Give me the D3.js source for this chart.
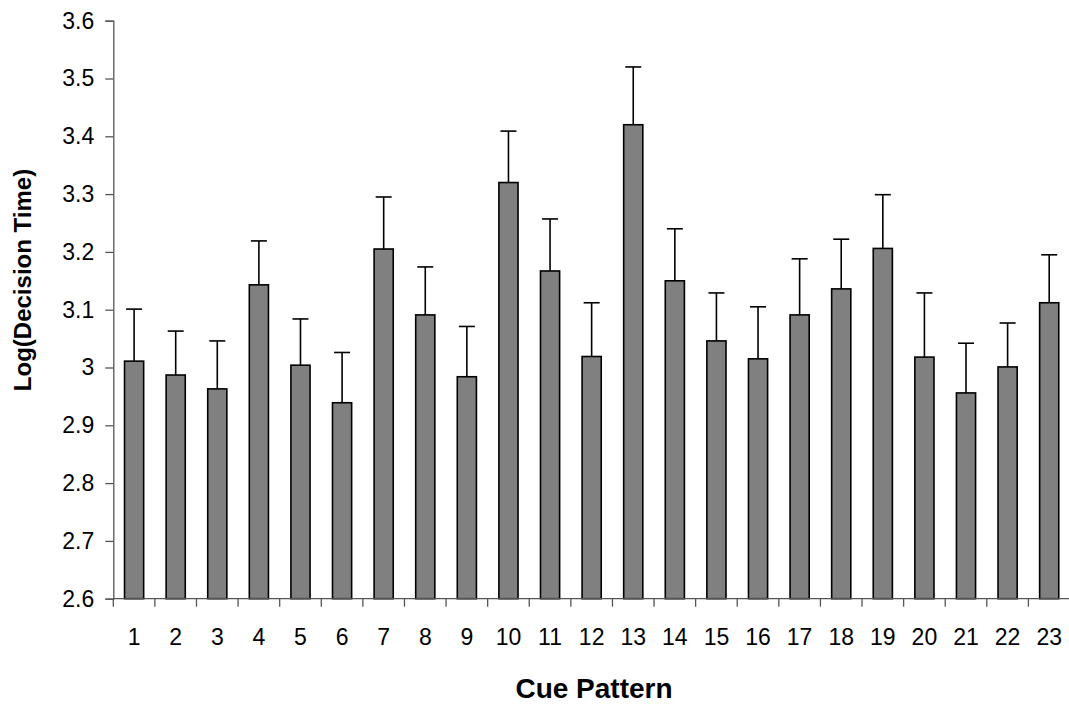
<!DOCTYPE html>
<html>
<head>
<meta charset="utf-8">
<script src="https://cdn.jsdelivr.net/npm/d3@7"></script>
<style>
  body { margin: 0; background: #fff; }
  svg { display: block; font-family: "Liberation Sans", Arial, sans-serif; }
</style>
</head>
<body>
<div id="chart"></div>
<script>
// cue patterns 1..23
var patterns = d3.range(1, 24).map(String);
// mean log decision time per pattern
var means = [3.011, 2.987, 2.963, 3.143, 3.004, 2.939, 3.205, 3.091, 2.984, 3.320,
             3.167, 3.019, 3.420, 3.150, 3.046, 3.015, 3.091, 3.136, 3.206, 3.018,
             2.956, 3.001, 3.112];
// top of the error bar (mean + error)
var upper = [3.101, 3.063, 3.046, 3.219, 3.084, 3.026, 3.295, 3.174, 3.071, 3.409,
             3.257, 3.112, 3.520, 3.240, 3.129, 3.105, 3.188, 3.222, 3.299, 3.129,
             3.042, 3.077, 3.195];
var yTicks = [2.6, 2.7, 2.8, 2.9, 3, 3.1, 3.2, 3.3, 3.4, 3.5, 3.6];

var data = patterns.map(function(p, i) {
    return {pattern: p, mean: means[i], upper: upper[i]};
});

var width = 1069, height = 707;
var plotLeft = 113.3, plotRight = 1070, plotTop = 20.7, plotBottom = 598.7;

var svg = d3.select("#chart").append("svg")
    .attr("width", width)
    .attr("height", height);

// set the ranges
var x = d3.scaleBand()
    .domain(patterns)
    .range([plotLeft, plotRight])
    .paddingInner(0.54)
    .paddingOuter(0.27);
var xEdge = d3.scaleLinear()
    .domain([0, patterns.length])
    .range([plotLeft, plotRight]);
var y = d3.scaleLinear()
    .domain([2.6, 3.6])
    .range([plotBottom, plotTop]);

// bars
svg.selectAll(".bar")
    .data(data)
    .enter().append("rect")
    .attr("class", "bar")
    .attr("x", function(d) { return x(d.pattern); })
    .attr("width", x.bandwidth())
    .attr("y", function(d) { return y(d.mean); })
    .attr("height", function(d) { return y(2.6) - y(d.mean); })
    .attr("fill", "#808080")
    .attr("stroke", "#000")
    .attr("stroke-width", 1.6);

// error bars (upper only)
var err = svg.selectAll(".err")
    .data(data)
    .enter().append("g")
    .attr("class", "err")
    .attr("stroke", "#000")
    .attr("stroke-width", 1.6);
err.append("line")
    .attr("x1", function(d) { return x(d.pattern) + x.bandwidth() / 2; })
    .attr("x2", function(d) { return x(d.pattern) + x.bandwidth() / 2; })
    .attr("y1", function(d) { return y(d.mean); })
    .attr("y2", function(d) { return y(d.upper); });
err.append("line")
    .attr("x1", function(d) { return x(d.pattern) + x.bandwidth() / 2 - 8; })
    .attr("x2", function(d) { return x(d.pattern) + x.bandwidth() / 2 + 8; })
    .attr("y1", function(d) { return y(d.upper); })
    .attr("y2", function(d) { return y(d.upper); });

// y axis
var yAxis = svg.append("g")
    .attr("transform", "translate(" + plotLeft + ",0)")
    .call(d3.axisLeft(y).tickValues(yTicks).tickSize(8).tickPadding(11)
        .tickFormat(function(d) { return d3.format("")(+d.toFixed(1)); }));
yAxis.select(".domain").attr("stroke", "#555").attr("stroke-width", 1.3);
yAxis.selectAll(".tick line").attr("stroke", "#555").attr("stroke-width", 1.3);
yAxis.selectAll("text")
    .attr("font-size", 23)
    .attr("fill", "#000")
    .attr("font-family", "Liberation Sans, Arial, sans-serif");

// x axis, labels at centres, ticks at category edges
var xAxis = svg.append("g")
    .attr("transform", "translate(0," + plotBottom + ")")
    .call(d3.axisBottom(x).tickSize(0));
xAxis.select(".domain").remove();
xAxis.selectAll("text")
    .attr("font-size", 23)
    .attr("fill", "#000")
    .attr("dy", null)
    .attr("y", 46)
    .attr("font-family", "Liberation Sans, Arial, sans-serif");
svg.append("line")
    .attr("x1", plotLeft).attr("x2", width)
    .attr("y1", plotBottom).attr("y2", plotBottom)
    .attr("stroke", "#555").attr("stroke-width", 1.3);
svg.selectAll(".edge")
    .data(d3.range(0, patterns.length + 1))
    .enter().append("line")
    .attr("class", "edge")
    .attr("x1", function(d) { return xEdge(d); })
    .attr("x2", function(d) { return xEdge(d); })
    .attr("y1", plotBottom)
    .attr("y2", plotBottom + 8)
    .attr("stroke", "#555").attr("stroke-width", 1.3);

// axis titles
svg.append("text")
    .attr("x", 594)
    .attr("y", 698)
    .attr("text-anchor", "middle")
    .attr("font-size", 28)
    .attr("font-weight", "bold")
    .text("Cue Pattern");
svg.append("text")
    .attr("transform", "translate(31,280) rotate(-90)")
    .attr("text-anchor", "middle")
    .attr("font-size", 24)
    .attr("font-weight", "bold")
    .text("Log(Decision Time)");
</script>
</body>
</html>
